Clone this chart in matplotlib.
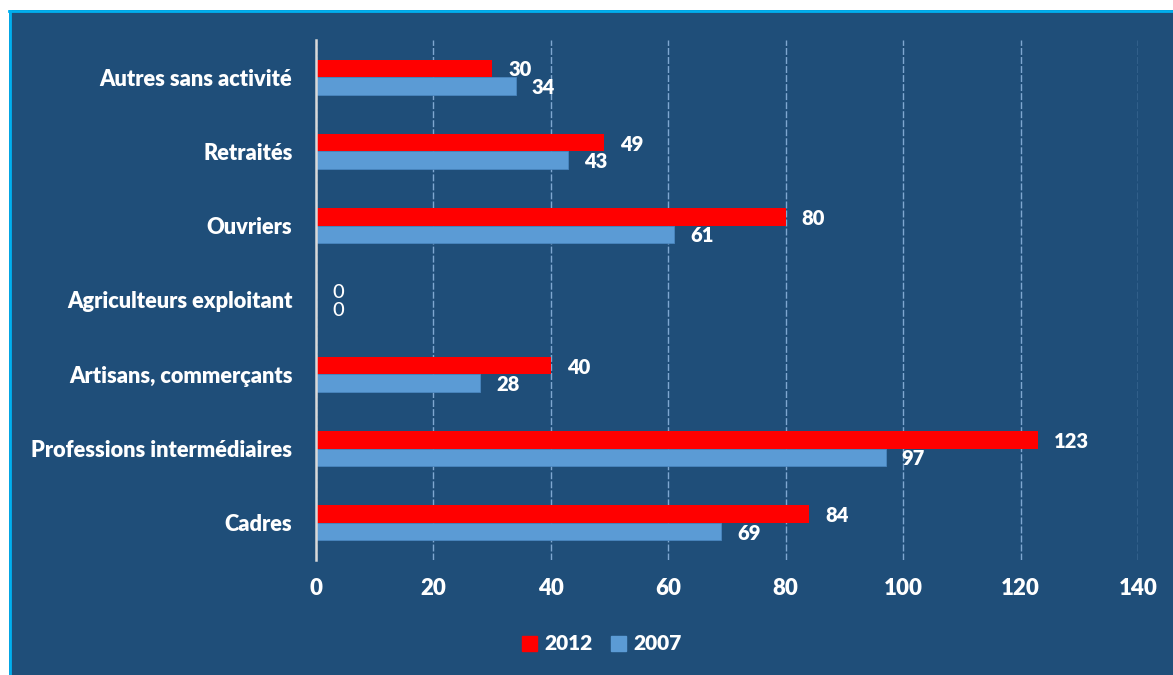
import matplotlib
matplotlib.use("Agg")
import matplotlib.pyplot as plt
from matplotlib.patches import Rectangle, Patch
from matplotlib.lines import Line2D
import numpy as np

# donnees (de haut en bas)
categories = ["Autres sans activité", "Retraités", "Ouvriers",
              "Agriculteurs exploitant", "Artisans, commerçants",
              "Professions intermédiaires", "Cadres"]
vals_2012 = [30, 49, 80, 0, 40, 123, 84]
vals_2007 = [34, 43, 61, 0, 28, 97, 69]
series_names = ["2012", "2007"]
xticks = [0, 20, 40, 60, 80, 100, 120, 140]

BG = "#1F4E79"
RED = "#FF0000"
BLUE = "#5B9BD5"
BORDER = "#00B0F0"
FONT = ["Lato", "DejaVu Sans"]
WEIGHT = "heavy"

plt.rcParams["font.family"] = FONT

fig = plt.figure(figsize=(11.73, 6.75), dpi=100)
fig.patch.set_facecolor("white")

# panneau bleu fonce avec bordure en haut et a gauche
W, H = 1173, 675
fig.patches.append(Rectangle((9 / W, 0), 1 - 9 / W, 1 - 10 / H, transform=fig.transFigure,
                             facecolor=BG, edgecolor="none", zorder=-10))
fig.lines.append(Line2D([9.5 / W, 9.5 / W], [0, 1 - 11 / H], transform=fig.transFigure,
                        color=BORDER, lw=2, zorder=-9))
fig.lines.append(Line2D([9 / W, 1], [1 - 11 / H, 1 - 11 / H], transform=fig.transFigure,
                        color=BORDER, lw=2, zorder=-9))

ax = fig.add_axes([316 / W, 1 - 560 / H, (1138 - 316) / W, 520 / H])
ax.set_facecolor("none")

y = np.arange(len(categories))
h = 0.236
b1 = ax.barh(y - h / 2, vals_2012, height=h, color=RED, zorder=3)
b2 = ax.barh(y + h / 2, vals_2007, height=h, color=BLUE, edgecolor="#4A86BF", lw=0.6, zorder=3)

for bars in (b1, b2):
    for rect in bars:
        v = rect.get_width()
        ax.annotate(f"{v:g}", (v, rect.get_y() + rect.get_height() / 2 + 0.02),
                    xytext=(11.5, 0), textcoords="offset points",
                    ha="left", va="center", color="white", fontsize=14.5,
                    fontweight="medium" if v == 0 else WEIGHT)

ax.set_xlim(0, 140)
ax.set_ylim(len(categories) - 0.5, -0.5)
ax.set_xticks(xticks)
ax.set_yticks(y)
ax.set_yticklabels(categories)
ax.tick_params(axis="both", length=0, colors="white")
ax.tick_params(axis="y", pad=17, labelsize=15.7)
ax.tick_params(axis="x", pad=13, labelsize=16)
for lab in ax.get_xticklabels() + ax.get_yticklabels():
    lab.set_fontweight(WEIGHT)

ax.grid(axis="x", color="#7FA7D0", lw=1, linestyle=(0, (5, 1.5)), zorder=1)
for s in ["top", "right", "bottom"]:
    ax.spines[s].set_visible(False)
ax.spines["left"].set_color("#D9D9D9")
ax.spines["left"].set_linewidth(1.8)
ax.spines["left"].set_zorder(4)

handles = [Patch(color=RED), Patch(color=BLUE)]
leg = fig.legend(handles, series_names, loc="center", bbox_to_anchor=(602 / W, 1 - 644 / H),
                 ncol=2, frameon=False, handlelength=0.7, handleheight=0.7,
                 handletextpad=0.35, columnspacing=0.9,
                 prop={"family": FONT, "weight": WEIGHT, "size": 15})
for t in leg.get_texts():
    t.set_color("white")

fig.savefig("out.png", dpi=100, facecolor=fig.get_facecolor())
